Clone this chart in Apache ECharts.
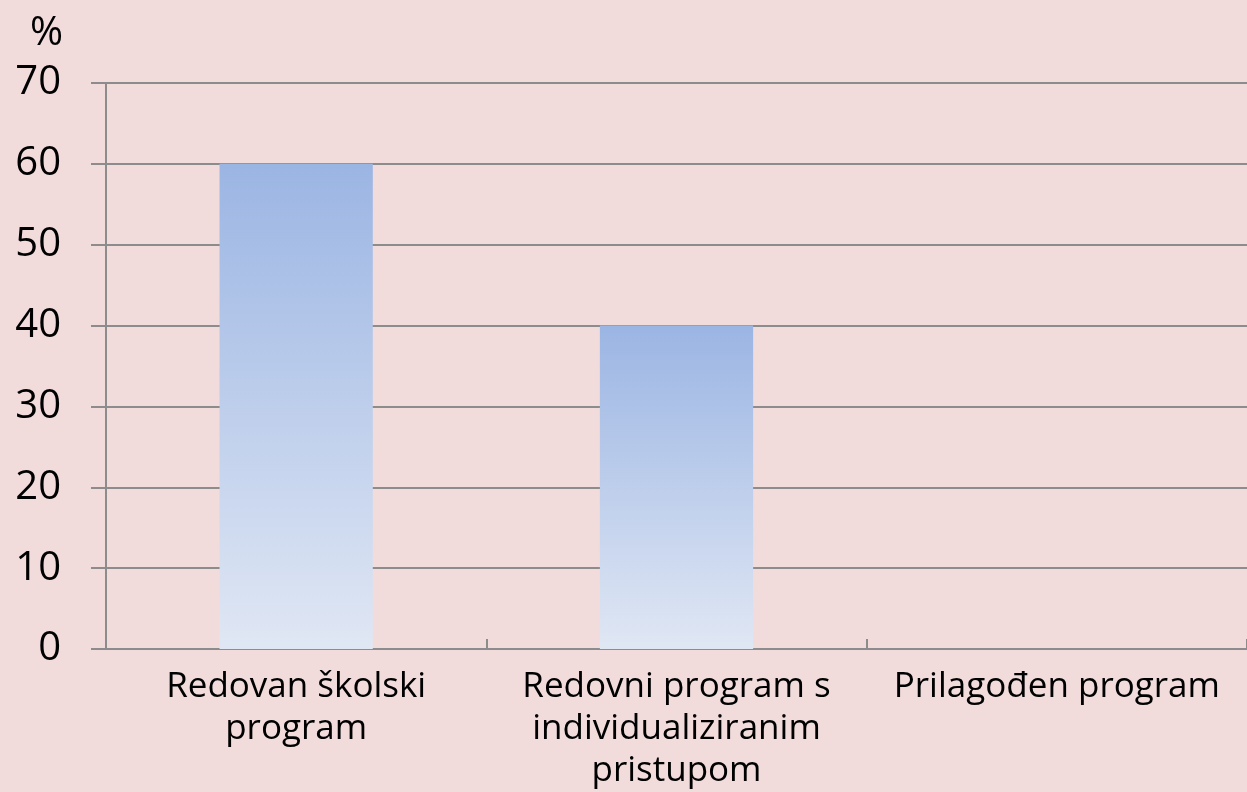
<!DOCTYPE html>
<html>
<head>
<meta charset="utf-8">
<script src="https://cdn.jsdelivr.net/npm/echarts@6/dist/echarts.min.js"></script>
<style>
  html, body { margin: 0; padding: 0; background: #f2dcdb; }
  #chart { width: 1247px; height: 792px; }
</style>
</head>
<body>
<div id="chart"></div>
<script>
// podaci
const categories = ['Redovan školski\nprogram', 'Redovni program s\nindividualiziranim\npristupom', 'Prilagođen program'];
const values = [60, 40, 0];
const yTicks = [0, 10, 20, 30, 40, 50, 60, 70];

const gray = '#8c8c8c';
const fontFamily = '"Open Sans", "DejaVu Sans", sans-serif';

let myChart = echarts.init(document.getElementById('chart'));
myChart.setOption({
  backgroundColor: '#f2dcdb',
  animation: false,
  title: {
    text: '%',
    left: 25,
    top: 9,
    textStyle: { fontFamily: fontFamily, fontWeight: 'normal', fontSize: 40, color: '#000' }
  },
  grid: { left: 106, top: 83, width: 1146, height: 572, containLabel: false },
  xAxis: {
    type: 'category',
    data: categories,
    axisLine: { lineStyle: { color: gray, width: 2 } },
    axisTick: { show: true, inside: true, length: 10, alignWithLabel: false, lineStyle: { color: gray, width: 2 } },
    axisLabel: {
      interval: 0,
      margin: 17,
      color: '#000',
      fontFamily: fontFamily,
      fontSize: 35,
      lineHeight: 42
    }
  },
  yAxis: {
    type: 'value',
    min: yTicks[0],
    max: yTicks[yTicks.length - 1],
    interval: 10,
    axisLine: { show: true, lineStyle: { color: gray, width: 2 } },
    axisTick: { show: true, length: 15, lineStyle: { color: gray, width: 2 } },
    splitLine: { show: true, lineStyle: { color: gray, width: 2 } },
    axisLabel: {
      margin: 45,
      color: '#000',
      fontFamily: fontFamily,
      fontSize: 40
    }
  },
  series: [{
    type: 'bar',
    data: values,
    barWidth: '40.3%',
    itemStyle: {
      color: new echarts.graphic.LinearGradient(0, 0, 0, 1, [
        { offset: 0, color: '#9bb5e3' },
        { offset: 1, color: '#e0e7f4' }
      ])
    }
  }]
});
</script>
</body>
</html>
